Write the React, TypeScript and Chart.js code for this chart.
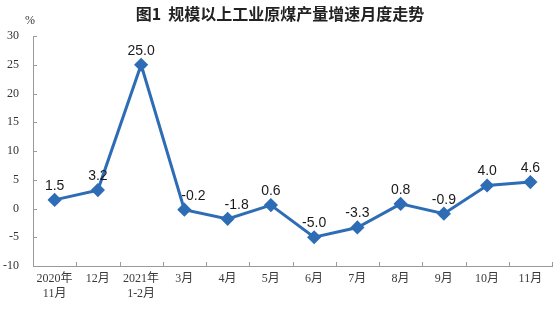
import React, { useEffect, useRef } from "react";
import { Chart, registerables } from "chart.js";

Chart.register(...registerables);

const TITLE = "图1  规模以上工业原煤产量增速月度走势";
const UNIT = "%";
const categories: (string | string[])[] = [
  ["2020年", "11月"],
  "12月",
  ["2021年", "1-2月"],
  "3月",
  "4月",
  "5月",
  "6月",
  "7月",
  "8月",
  "9月",
  "10月",
  "11月",
];
const growth = [1.5, 3.2, 25.0, -0.2, -1.8, 0.6, -5.0, -3.3, 0.8, -0.9, 4.0, 4.6];
const yMin = -10;
const yMax = 30;
const yStep = 5;

const BLUE = "#2e6db6";
const AXIS = "#9a9a9a";

const decorPlugin = {
  id: "decor",
  afterDraw(chart: any) {
    const { ctx, chartArea, scales } = chart;
    const { left, right, bottom } = chartArea;
    ctx.save();
    // inward tick marks
    ctx.strokeStyle = AXIS;
    ctx.lineWidth = 1;
    ctx.beginPath();
    const ys = scales.y;
    ys.ticks.forEach((t: any) => {
      const py = Math.round(ys.getPixelForValue(t.value)) + 0.5;
      ctx.moveTo(left, py);
      ctx.lineTo(left + 4, py);
    });
    const n = categories.length;
    for (let i = 0; i <= n; i++) {
      const px = Math.round(left + (i * (right - left)) / n) + 0.5;
      ctx.moveTo(px, bottom);
      ctx.lineTo(px, bottom - 4);
    }
    ctx.stroke();

    // data labels
    const meta = chart.getDatasetMeta(0);
    ctx.fillStyle = "#1a1a1a";
    ctx.font = "14px 'Liberation Sans', Arial, sans-serif";
    ctx.textAlign = "center";
    ctx.textBaseline = "middle";
    meta.data.forEach((pt: any, i: number) => {
      const prev = i > 0 ? growth[i - 1] : growth[i];
      // nudge labels right when the incoming line drops steeply onto the point
      const dx = prev - growth[i] > 1 && i > 2 && i < 5 ? 9 : 0;
      ctx.fillText(growth[i].toFixed(1), pt.x + dx, pt.y - 14);
    });

    // title
    ctx.font = "bold 16px 'Noto Sans CJK SC', sans-serif";
    ctx.fillStyle = "#222";
    ctx.fillText(TITLE, chart.width / 2, 14);

    // unit
    ctx.font = "12px 'Liberation Serif', serif";
    ctx.fillStyle = "#333";
    ctx.fillText(UNIT, 30, 21);
    ctx.restore();
  },
};

export default function App() {
  const ref = useRef<HTMLCanvasElement>(null);
  useEffect(() => {
    if (!ref.current) return;
    const chart = new Chart(ref.current, {
      type: "line",
      data: {
        labels: categories,
        datasets: [
          {
            data: growth,
            borderColor: BLUE,
            backgroundColor: BLUE,
            borderWidth: 3,
            pointStyle: "rectRot",
            pointRadius: 5,
            pointBackgroundColor: BLUE,
            pointBorderColor: BLUE,
            tension: 0,
          },
        ],
      },
      options: {
        animation: false,
        responsive: true,
        maintainAspectRatio: false,
        layout: { padding: { top: 36, right: 3, left: 0, bottom: 0 } },
        plugins: { legend: { display: false }, tooltip: { enabled: false }, title: { display: false } },
        scales: {
          x: {
            type: "category",
            offset: true,
            grid: { display: false, drawTicks: false },
            border: { display: true, color: AXIS, width: 1 },
            ticks: {
              color: "#3a3a3a",
              font: { family: "'Liberation Serif', 'Noto Sans CJK SC', serif", size: 12, lineHeight: 1.2 },
              padding: 6,
              maxRotation: 0,
              autoSkip: false,
            },
            afterFit(s: any) {
              s.height = 43;
            },
          },
          y: {
            min: yMin,
            max: yMax,
            grid: { display: false, drawTicks: false },
            border: { display: true, color: AXIS, width: 1 },
            ticks: {
              stepSize: yStep,
              color: "#333",
              font: { family: "'Liberation Serif', serif", size: 12 },
              padding: 14,
            },
            afterFit(s: any) {
              s.width = 33;
            },
          },
        },
      },
      plugins: [decorPlugin],
    });
    return () => chart.destroy();
  }, []);
  return (
    <div style={{ position: "absolute", left: 0, top: 0, width: 560, height: 309, background: "#fff" }}>
      <canvas ref={ref} />
    </div>
  );
}
